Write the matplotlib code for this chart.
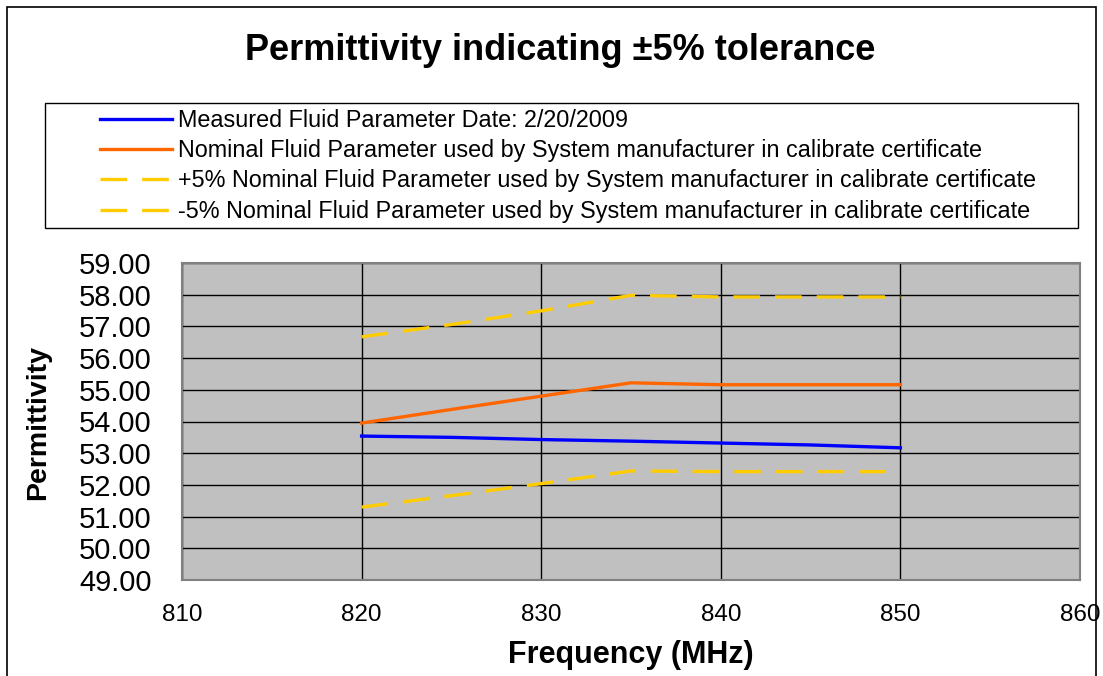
import matplotlib
matplotlib.use("Agg")
import matplotlib.pyplot as plt
from matplotlib.patches import Rectangle

plt.rcParams['font.family'] = ['Liberation Sans', 'DejaVu Sans']

freq = [820, 825, 830, 835, 840, 845, 850]
measured = [53.54, 53.50, 53.43, 53.38, 53.32, 53.26, 53.17]
nominal = [53.95, 54.38, 54.80, 55.22, 55.16, 55.16, 55.16]
upper = [56.67, 57.06, 57.49, 57.98, 57.93, 57.93, 57.93]
lower = [51.30, 51.66, 52.04, 52.44, 52.42, 52.42, 52.42]

labels = [
    "Measured Fluid Parameter Date: 2/20/2009",
    "Nominal Fluid Parameter used by System manufacturer in calibrate certificate",
    "+5% Nominal Fluid Parameter used by System manufacturer in calibrate certificate",
    "-5% Nominal Fluid Parameter used by System manufacturer in calibrate certificate",
]
x_ticks = [810, 820, 830, 840, 850, 860]
y_ticks = [49, 50, 51, 52, 53, 54, 55, 56, 57, 58, 59]

W, H = 1103, 676
fig = plt.figure(figsize=(W / 100, H / 100), dpi=100)
ax = fig.add_axes([182 / W, 1 - 580 / H, (1080 - 182) / W, (580 - 263) / H])
ax.set_facecolor('#C0C0C0')

l1, = ax.plot(freq, measured, color='#0000FF', lw=2.4, label=labels[0], zorder=5)
l2, = ax.plot(freq, nominal, color='#FF6600', lw=2.4, label=labels[1], zorder=5)
l3, = ax.plot(freq, upper, color='#FFCC00', lw=2.4, dashes=(8, 4.5), label=labels[2], zorder=5)
l4, = ax.plot(freq, lower, color='#FFCC00', lw=2.4, dashes=(8, 4.5), label=labels[3], zorder=5)

ax.set_xlim(810, 860)
ax.set_ylim(49, 59)
ax.set_xticks(x_ticks)
ax.set_yticks(y_ticks)
ax.set_yticklabels([f"{v:.2f}" for v in y_ticks], fontsize=21)
ax.set_xticklabels([str(v) for v in x_ticks], fontsize=17.5)
ax.tick_params(axis='x', length=0, pad=17)
ax.tick_params(axis='y', length=0, pad=22)
ax.grid(True, color='black', lw=1.0)
ax.set_axisbelow(True)
for s in ax.spines.values():
    s.set_color('#808080')
    s.set_linewidth(1.5)

fig.text(631 / W, 1 - 655 / H, "Frequency (MHz)", fontsize=22, fontweight='bold',
         ha='center', va='center')
fig.text(38 / W, 1 - 422 / H, "Permittivity", rotation=90, fontsize=20.5,
         fontweight='bold', ha='center', va='center')
fig.text(560 / W, 1 - 50 / H, "Permittivity indicating \u00b15% tolerance",
         fontsize=26, fontweight='bold', ha='center', va='center')

# legend frame
fig.add_artist(Rectangle((45 / W, 1 - 228 / H), (1078 - 45) / W, (228 - 103) / H,
                         transform=fig.transFigure, fill=True, facecolor='white',
                         edgecolor='black', lw=1.0, zorder=1))
leg = fig.legend(handles=[l1, l2, l3, l4], loc='upper left',
                 bbox_to_anchor=(100 / W, 1 - 109 / H),
                 fontsize=16.8, frameon=False, borderaxespad=0, borderpad=0,
                 handlelength=3.1, handletextpad=0.25, labelspacing=0.31)
leg.set_zorder(2)

fig.add_artist(Rectangle((7 / W, -0.01), (1096 - 7) / W, 1.0, transform=fig.transFigure,
                         fill=False, edgecolor='black', lw=1.2))

fig.savefig("out.png", dpi=100)
